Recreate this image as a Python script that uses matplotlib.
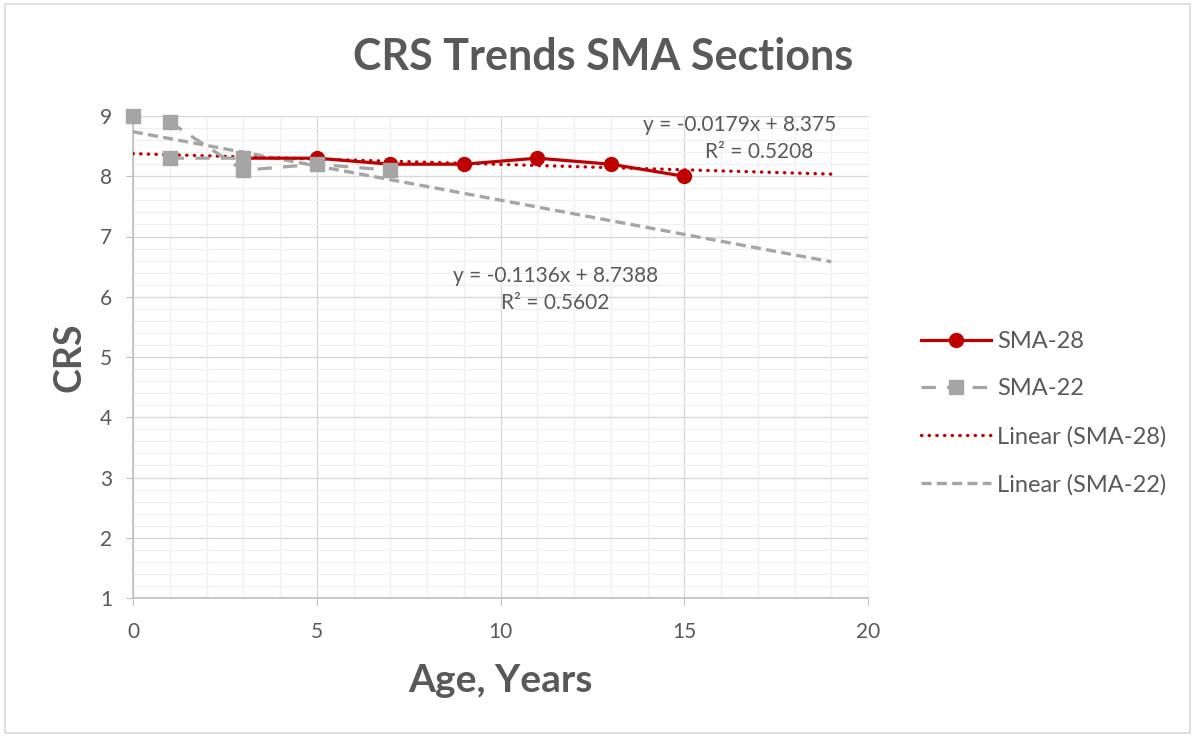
import numpy as np
import matplotlib
matplotlib.use("Agg")
import matplotlib.pyplot as plt
from matplotlib.ticker import MultipleLocator
from matplotlib.patches import Rectangle

plt.rcParams['font.family'] = ['Lato', 'DejaVu Sans']

# Data
sma28_x = [3, 5, 7, 9, 11, 13, 15]
sma28_y = [8.3, 8.3, 8.2, 8.2, 8.3, 8.2, 8.0]
# SMA-22 in data order; None marks a gap (blank cell) in the line
sma22_x = [0, None, 1, 3, 5, 7, None, 1, 3]
sma22_y = [9.0, None, 8.9, 8.1, 8.2, 8.1, None, 8.3, 8.3]
trend_range = [0, 19]
eq28 = ["y = -0.0179x + 8.375", "R² = 0.5208"]
eq22 = ["y = -0.1136x + 8.7388", "R² = 0.5602"]

RED = '#C00000'
GREY = '#A5A5A5'
TXT = '#595959'

fig = plt.figure(figsize=(11.95, 7.36), dpi=100)
ax = fig.add_axes([133/1195, 1-598/736, (868-133)/1195, (598-116)/736])

x22 = np.array([np.nan if v is None else v for v in sma22_x], dtype=float)
y22 = np.array([np.nan if v is None else v for v in sma22_y], dtype=float)

# trendlines
m28, b28 = np.polyfit(sma28_x, sma28_y, 1)
ok = ~np.isnan(x22)
m22, b22 = np.polyfit(x22[ok], y22[ok], 1)
tx = np.array(trend_range, dtype=float)

l1, = ax.plot(sma28_x, sma28_y, color=RED, lw=2.3, marker='o', ms=10,
              label='SMA-28', zorder=4, clip_on=False)
l2, = ax.plot(x22, y22, color=GREY, lw=2.3, marker='s', ms=10,
              dashes=(4.5, 3.5), label='SMA-22', zorder=5, clip_on=False)
l3, = ax.plot(tx, m28*tx + b28, color=RED, lw=2.4, linestyle=(0, (0.1, 2.2)),
              dash_capstyle='round', label='Linear (SMA-28)', zorder=3)
l4, = ax.plot(tx, m22*tx + b22, color=GREY, lw=2.4, dashes=(3, 1.6),
              label='Linear (SMA-22)', zorder=3)

ax.set_xlim(0, 20)
ax.set_ylim(1, 9)
ax.xaxis.set_major_locator(MultipleLocator(5))
ax.yaxis.set_major_locator(MultipleLocator(1))
ax.xaxis.set_minor_locator(MultipleLocator(1))
ax.yaxis.set_minor_locator(MultipleLocator(0.2))
ax.grid(which='major', color='#D9D9D9', lw=1.0, zorder=0)
ax.grid(which='minor', color='#F0F0F0', lw=1.0, zorder=0)
ax.set_axisbelow(True)
for s in ['top', 'right']:
    ax.spines[s].set_visible(False)
for s in ['left', 'bottom']:
    ax.spines[s].set_color('#BFBFBF')
    ax.spines[s].set_linewidth(1.2)
ax.tick_params(which='major', direction='out', length=5, color='#BFBFBF',
               labelsize=15, labelcolor=TXT)
ax.tick_params(axis='x', which='major', pad=12)
ax.tick_params(axis='y', which='major', pad=10)
ax.tick_params(which='minor', length=0)

ax.set_xlabel('Age, Years', fontsize=28, fontweight='bold', color=TXT)
ax.set_ylabel('CRS', fontsize=27, fontweight='bold', color=TXT)
ax.xaxis.set_label_coords(0.5, -(680-598)/482, transform=ax.transAxes)
ax.yaxis.set_label_coords(-(133-70)/735, 0.5, transform=ax.transAxes)
ax.xaxis.label.set_va('center')
ax.yaxis.label.set_va('center')

fig.text(603/1195, 1-57/736, 'CRS Trends SMA Sections', fontsize=31,
         fontweight='bold', color=TXT, ha='center', va='center')

ax.text(16.5, 8.85, eq28[0], fontsize=15, color=TXT, ha='center', va='center', zorder=6)
ax.text(17.05, 8.40, eq28[1], fontsize=15, color=TXT, ha='center', va='center', zorder=6)
ax.text(11.5, 6.34, eq22[0], fontsize=15, color=TXT, ha='center', va='center', zorder=6)
ax.text(11.5, 5.90, eq22[1], fontsize=15, color=TXT, ha='center', va='center', zorder=6)

leg = fig.legend(handles=[l1, l2, l3, l4], loc='center left',
                 bbox_to_anchor=(912/1195, 1-413/736), frameon=False,
                 fontsize=17, labelspacing=1.12, handlelength=2.95,
                 handletextpad=0.25, labelcolor=TXT, borderaxespad=0)

fig.patches.append(Rectangle((5/1195, 3/736), 1185/1195, 729/736,
                             transform=fig.transFigure, fill=False,
                             edgecolor='#D9D9D9', lw=1.2))

fig.savefig('out.png', dpi=100)
